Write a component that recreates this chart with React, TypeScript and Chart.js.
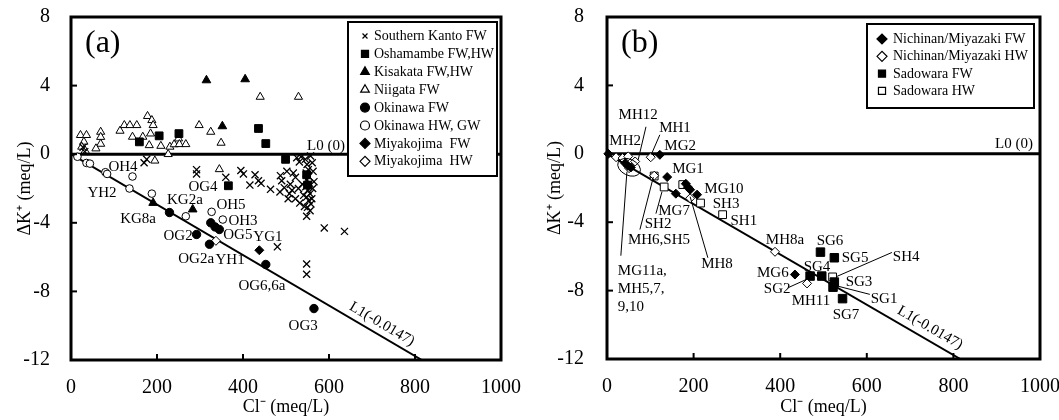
import React, { useEffect, useRef } from 'react';
import { Chart, registerables } from 'chart.js';
import { drawPoint } from 'chart.js/helpers';

Chart.register(...registerables);

const FONT = '"Liberation Serif", "Times New Roman", Times, serif';

// ---------- axes ----------
const X_TICKS = [0, 200, 400, 600, 800, 1000];
const Y_TICKS = [-12, -8, -4, 0, 4, 8];
const X_TITLE = 'Cl\u207B (meq/L)';
const Y_TITLE = '\u0394K\u207A (meq/L)';

// ---------- reference lines ----------
const L0_POINTS: [number, number][] = [[0, 0], [1000, 0]];
const L1_POINTS: [number, number][] = [[0, 0], [816, -12]];
const L0_TEXT = 'L0 (0)';
const L1_TEXT = 'L1(-0.0147)';

// ---------- panel (a) data ----------
const A_SOUTHERN_KANTO_FW: [number, number][] = [
  [28, 0.4], [32, 0.15], [170, -0.5], [176, -0.3], [292, -0.9], [292, -1.15],
  [360, -1.35], [395, -0.95], [401, -1.15], [416, -1.8], [428, -1.2], [436, -1.55],
  [442, -1.7], [464, -2.05], [480, -5.4], [487, -1.25], [490, -1.55], [486, -2.2],
  [496, -1.95], [502, -1.0], [508, -2.3], [514, -2.1], [517, -1.1], [522, -1.35],
  [525, -0.2], [531, -0.45], [535, -0.15], [538, -1.75], [529, -2.0], [522, -2.6],
  [541, -2.4], [532, -2.85], [543, -3.05], [510, -1.75], [505, -2.6],
  [545, -0.3], [549, -0.6], [552, -0.9], [547, -1.1], [553, -1.3], [549, -1.5],
  [555, -1.7], [546, -1.9], [551, -2.1], [556, -2.3], [548, -2.5], [553, -2.7],
  [558, -2.9], [550, -3.1], [556, -3.3], [561, -0.5], [563, -1.0], [565, -1.6],
  [562, -2.0], [560, -2.6], [557, -0.1],
  [548, -3.62], [589, -4.3], [636, -4.5], [548, -6.4], [548, -7.0],
];
const A_OSHAMAMBE_FW_HW: [number, number][] = [
  [159, 0.72], [205, 1.07], [251, 1.2], [436, 1.5], [453, 0.62], [499, -0.3],
  [366, -1.84], [548, -1.2], [550, -1.8],
];
const A_KISAKATA_FW_HW: [number, number][] = [
  [315, 4.31], [405, 4.37], [352, 1.63], [191, -2.84], [283, -3.22],
];
const A_NIIGATA_FW: [number, number][] = [
  [22, 1.11], [36, 1.11], [30, 0.72], [25, 0.43], [33, 0.2], [69, 1.3], [69, 1.0],
  [69, 0.6], [58, 0.33], [114, 1.36], [124, 1.69], [137, 1.69], [153, 1.69],
  [143, 1.01], [167, 1.01], [178, 2.22], [188, 1.98], [191, 1.69], [185, 1.2],
  [182, 0.52], [209, 0.48], [226, 0.0], [230, 0.43], [240, 0.57], [250, 0.91],
  [252, 0.58], [267, 0.58], [195, -0.38], [298, 1.69], [325, 1.3], [349, 0.66],
  [440, 3.34], [529, 3.34], [345, -0.88],
];
const A_OKINAWA_FW: [number, number][] = [
  [229, -3.4], [292, -4.68], [322, -5.25], [325, -4.0], [335, -4.24], [345, -4.39],
  [453, -6.43], [565, -9.0],
];
const A_OKINAWA_HW_GW: [number, number][] = [
  [15, -0.15], [36, -0.51], [44, -0.55], [80, -1.05], [84, -1.15], [143, -1.3],
  [136, -2.0], [188, -2.3], [267, -3.62], [327, -3.36], [353, -3.81],
];
const A_MIYAKOJIMA_FW: [number, number][] = [[438, -5.6]];
const A_MIYAKOJIMA_HW: [number, number][] = [[337, -5.05]];

const A_LABELS: [string, number, number, string?][] = [
  ['OH4', 121, -0.76], ['YH2', 72, -2.27], ['KG2a', 265, -2.68], ['KG8a', 156, -3.79],
  ['OG4', 307, -1.92], ['OH5', 372, -2.97], ['OH3', 400, -3.91], ['OG2', 249, -4.78],
  ['OG5', 388, -4.72], ['YG1', 458, -4.84], ['OG2a', 291, -6.12], ['YH1', 370, -6.18],
  ['OG6,6a', 444, -7.7], ['OG3', 540, -10.03],
];
const A_L0_AT: [number, number] = [593, 0.47];
const A_L1_AT: [number, number] = [723, -9.91];

// ---------- panel (b) data ----------
const B_NICHINAN_FW: [number, number][] = [
  [3, 0], [42, -0.55], [48, -0.7], [55, -0.8], [122, -0.06], [139, -1.36],
  [182, -1.75], [187, -1.95], [192, -2.1], [159, -2.33], [208, -2.39], [434, -7.06],
];
const B_NICHINAN_HW: [number, number][] = [
  [21, -0.2], [36, -0.25], [49, -0.15], [65, -0.45], [51, -0.84], [101, -0.2],
  [109, -1.28], [192, -2.6], [388, -5.73], [462, -7.58],
];
const B_SADOWARA_FW: [number, number][] = [
  [493, -5.75], [525, -6.08], [469, -7.15], [496, -7.15], [525, -7.5], [522, -7.8],
  [544, -8.47],
];
const B_SADOWARA_HW: [number, number][] = [
  [109, -1.3], [132, -1.94], [175, -1.8], [216, -2.88], [267, -3.56], [521, -7.2],
];

const B_LABELS: [string, number, number, string?][] = [
  ['MH12', 72, 2.28], ['MH1', 157, 1.52], ['MH2', 42, 0.76], ['MG2', 169, 0.47],
  ['MG1', 187, -0.88], ['MG10', 270, -2.05], ['SH3', 275, -2.92], ['MG7', 155, -3.33],
  ['SH2', 118, -4.09], ['SH1', 316, -3.92], ['MH6,SH5', 120, -5.03], ['MH8', 254, -6.43],
  ['MG11a,', 25, -6.84, 'left'], ['MH5,7,', 25, -7.89, 'left'], ['9,10', 25, -8.95, 'left'],
  ['MH8a', 411, -5.03], ['MG6', 383, -6.96], ['SG2', 393, -7.89], ['SG6', 515, -5.09],
  ['SG5', 573, -6.08], ['SH4', 691, -6.02], ['SG4', 485, -6.61], ['SG3', 582, -7.49],
  ['SG1', 640, -8.48], ['MH11', 471, -8.6], ['SG7', 552, -9.42],
];
const B_LEADERS: [number, number, number, number][] = [
  [90, 1.58, 72, -0.35],
  [122, 1.11, 102, -0.06],
  [107, -1.36, 76, -4.43],
  [127, -2.22, 113, -3.5],
  [46, -1.05, 32, -5.96],
  [192, -2.51, 233, -6.08],
  [420, -7.81, 469, -7.25],
  [658, -5.77, 531, -7.17],
  [607, -8.22, 527, -7.7],
];
const B_ELLIPSE_AT: [number, number] = [51, -0.79];
const B_L0_AT: [number, number] = [940, 0.58];
const B_L1_AT: [number, number] = [746, -10.18];

// ---------- styling ----------
type Series = { label: string; data: [number, number][]; style: string; radius: number; filled: boolean };
const LEGEND_R: Record<string, number> = { crossRot: 3.5, rect: 5, triangle: 5, circle: 4.5, rectRot: 5 };

const SERIES_A: Series[] = [
  { label: 'Southern Kanto FW', data: A_SOUTHERN_KANTO_FW, style: 'crossRot', radius: 5, filled: true },
  { label: 'Oshamambe FW,HW', data: A_OSHAMAMBE_FW_HW, style: 'rect', radius: 5.5, filled: true },
  { label: 'Kisakata FW,HW', data: A_KISAKATA_FW_HW, style: 'triangle', radius: 5, filled: true },
  { label: 'Niigata FW', data: A_NIIGATA_FW, style: 'triangle', radius: 4.7, filled: false },
  { label: 'Okinawa FW', data: A_OKINAWA_FW, style: 'circle', radius: 4.2, filled: true },
  { label: 'Okinawa HW, GW', data: A_OKINAWA_HW_GW, style: 'circle', radius: 3.8, filled: false },
  { label: 'Miyakojima  FW', data: A_MIYAKOJIMA_FW, style: 'rectRot', radius: 4.5, filled: true },
  { label: 'Miyakojima  HW', data: A_MIYAKOJIMA_HW, style: 'rectRot', radius: 4.5, filled: false },
];
const SERIES_B: Series[] = [
  { label: 'Nichinan/Miyazaki FW', data: B_NICHINAN_FW, style: 'rectRot', radius: 4.5, filled: true },
  { label: 'Nichinan/Miyazaki HW', data: B_NICHINAN_HW, style: 'rectRot', radius: 4.5, filled: false },
  { label: 'Sadowara FW', data: B_SADOWARA_FW, style: 'rect', radius: 6, filled: true },
  { label: 'Sadowara HW', data: B_SADOWARA_HW, style: 'rect', radius: 5.5, filled: false },
];

type PanelDef = {
  id: string; letter: string; series: Series[]; labels: [string, number, number, string?][];
  leaders: [number, number, number, number][]; ellipse?: [number, number];
  l0At: [number, number]; l1At: [number, number];
  yWidth: number; xHeight: number; padRight: number; tickPad: number;
  legend: { right: number; top: number; width: number; height: number; row0: number; gap: number; markerDx: number; textDx: number };
};

const PANEL_A: PanelDef = {
  id: 'a', letter: '(a)', series: SERIES_A, labels: A_LABELS, leaders: [],
  l0At: A_L0_AT, l1At: A_L1_AT, yWidth: 71, xHeight: 60, padRight: 29, tickPad: 21,
  legend: { right: 4, top: 5, width: 149, height: 154, row0: 14, gap: 17.9, markerDx: 17, textDx: 26 },
};
const PANEL_B: PanelDef = {
  id: 'b', letter: '(b)', series: SERIES_B, labels: B_LABELS, leaders: B_LEADERS, ellipse: B_ELLIPSE_AT,
  l0At: B_L0_AT, l1At: B_L1_AT, yWidth: 77, xHeight: 61, padRight: 19, tickPad: 23,
  legend: { right: 6, top: 7, width: 167, height: 84, row0: 15, gap: 17.3, markerDx: 15, textDx: 26 },
};

const pts = (arr: [number, number][]) => arr.map(([x, y]) => ({ x, y }));

function decorPlugin(p: PanelDef) {
  return {
    id: 'decor_' + p.id,
    afterDraw(chart: any) {
      const { ctx, chartArea: ca } = chart;
      const xs = chart.scales.x;
      const ys = chart.scales.y;
      const X = (v: number) => xs.getPixelForValue(v);
      const Y = (v: number) => ys.getPixelForValue(v);
      ctx.save();
      ctx.strokeStyle = '#000';
      ctx.fillStyle = '#000';
      // leader lines
      ctx.lineWidth = 1;
      for (const [x1, y1, x2, y2] of p.leaders) {
        ctx.beginPath(); ctx.moveTo(X(x1), Y(y1)); ctx.lineTo(X(x2), Y(y2)); ctx.stroke();
      }
      if (p.ellipse) {
        ctx.beginPath();
        ctx.ellipse(X(p.ellipse[0]), Y(p.ellipse[1]), 12, 8, 0.45, 0, Math.PI * 2);
        ctx.stroke();
      }
      // frame
      ctx.lineWidth = 3;
      ctx.strokeRect(ca.left, ca.top, ca.right - ca.left, ca.bottom - ca.top);
      // inward tick marks
      ctx.lineWidth = 2;
      for (const v of X_TICKS) {
        const px = X(v);
        ctx.beginPath(); ctx.moveTo(px, ca.bottom); ctx.lineTo(px, ca.bottom - 6); ctx.stroke();
      }
      for (const v of Y_TICKS) {
        const py = Y(v);
        ctx.beginPath(); ctx.moveTo(ca.left, py); ctx.lineTo(ca.left + 6, py); ctx.stroke();
      }
      // point labels
      ctx.font = `15px ${FONT}`;
      ctx.textBaseline = 'middle';
      for (const [t, lx, ly, al] of p.labels) {
        ctx.textAlign = al === 'left' ? 'left' : 'center';
        ctx.fillText(t, X(lx), Y(ly));
      }
      ctx.textAlign = 'center';
      ctx.fillText(L0_TEXT, X(p.l0At[0]), Y(p.l0At[1]));
      const ang = Math.atan2(
        Y(L1_POINTS[1][1]) - Y(L1_POINTS[0][1]),
        X(L1_POINTS[1][0]) - X(L1_POINTS[0][0])
      );
      ctx.save();
      ctx.translate(X(p.l1At[0]), Y(p.l1At[1]));
      ctx.rotate(ang);
      ctx.fillText(L1_TEXT, 0, 0);
      ctx.restore();
      // panel letter
      ctx.font = `32px ${FONT}`;
      ctx.textAlign = 'left';
      ctx.fillText(p.letter, ca.left + 14, ca.top + 27);
      // legend
      const lg = p.legend;
      const bx = ca.right - lg.right - lg.width;
      const by = ca.top + lg.top;
      ctx.fillStyle = '#fff';
      ctx.fillRect(bx, by, lg.width, lg.height);
      ctx.lineWidth = 2;
      ctx.strokeStyle = '#000';
      ctx.strokeRect(bx, by, lg.width, lg.height);
      ctx.font = `14px ${FONT}`;
      p.series.forEach((s, i) => {
        const cy = by + lg.row0 + i * lg.gap;
        ctx.fillStyle = s.filled ? '#000' : '#fff';
        ctx.strokeStyle = '#000';
        ctx.lineWidth = 1.2;
        drawPoint(ctx, { pointStyle: s.style as any, radius: LEGEND_R[s.style], borderWidth: 1.2, rotation: 0 }, bx + lg.markerDx, cy);
        ctx.fillStyle = '#000';
        ctx.textAlign = 'left';
        ctx.fillText(s.label, bx + lg.textDx, cy + 0.5);
      });
      ctx.restore();
    },
  };
}

function noScalePadding(s: any) {
  s.paddingLeft = 0;
  s.paddingRight = 0;
  s.paddingTop = 0;
  s.paddingBottom = 0;
}

function buildConfig(p: PanelDef): any {
  const datasets: any[] = p.series.map((s) => ({
    label: s.label,
    data: pts(s.data),
    pointStyle: s.style,
    pointRadius: s.radius,
    pointHoverRadius: s.radius,
    pointBackgroundColor: s.filled ? '#000' : '#fff',
    pointBorderColor: '#000',
    pointBorderWidth: s.style === 'crossRot' ? 1.3 : 1,
    showLine: false,
    clip: false,
  }));
  datasets.push({
    label: 'L0', data: pts(L0_POINTS), showLine: true, borderColor: '#000', borderWidth: 3,
    pointRadius: 0, pointHoverRadius: 0, fill: false,
  });
  datasets.push({
    label: 'L1', data: pts(L1_POINTS), showLine: true, borderColor: '#000', borderWidth: 2,
    pointRadius: 0, pointHoverRadius: 0, fill: false,
  });
  const tickFont = { family: FONT, size: 20 };
  const titleFont = { family: FONT, size: 18 };
  return {
    type: 'scatter',
    data: { datasets },
    options: {
      responsive: false,
      animation: false,
      events: [],
      layout: { padding: { top: 17, right: p.padRight, left: 0, bottom: 0 } },
      plugins: { legend: { display: false }, tooltip: { enabled: false } },
      scales: {
        x: {
          type: 'linear', min: 0, max: 1000,
          afterBuildTicks: (s: any) => { s.ticks = X_TICKS.map((v) => ({ value: v })); },
          afterFit: (s: any) => { s.height = p.xHeight; noScalePadding(s); },
          grid: { display: false, drawTicks: false },
          border: { display: false },
          ticks: { color: '#000', font: tickFont, padding: 16, maxRotation: 0, autoSkip: false, callback: (v: any) => String(v) },
          title: { display: true, text: X_TITLE, color: '#000', font: titleFont, padding: { top: 0, bottom: 2 } },
        },
        y: {
          type: 'linear', min: -12, max: 8,
          afterBuildTicks: (s: any) => { s.ticks = Y_TICKS.map((v) => ({ value: v })); },
          afterFit: (s: any) => { s.width = p.yWidth; noScalePadding(s); },
          grid: { display: false, drawTicks: false },
          border: { display: false },
          ticks: { color: '#000', font: tickFont, padding: p.tickPad, autoSkip: false, callback: (v: any) => String(v) },
          title: { display: true, text: Y_TITLE, color: '#000', font: titleFont, padding: { top: 14, bottom: 0 } },
        },
      },
    },
    plugins: [decorPlugin(p)],
  };
}

function Panel({ def, left, width }: { def: PanelDef; left: number; width: number }) {
  const ref = useRef<HTMLCanvasElement>(null);
  useEffect(() => {
    const chart = new Chart(ref.current as HTMLCanvasElement, buildConfig(def));
    return () => chart.destroy();
  }, [def]);
  return (
    <canvas
      ref={ref}
      width={width}
      height={420}
      style={{ position: 'absolute', left, top: 0, width, height: 420, display: 'block' }}
    />
  );
}

export default function App() {
  return (
    <div style={{ position: 'absolute', left: 0, top: 0, width: 1059, height: 420, background: '#fff' }}>
      <Panel def={PANEL_A} left={0} width={530} />
      <Panel def={PANEL_B} left={530} width={529} />
    </div>
  );
}
